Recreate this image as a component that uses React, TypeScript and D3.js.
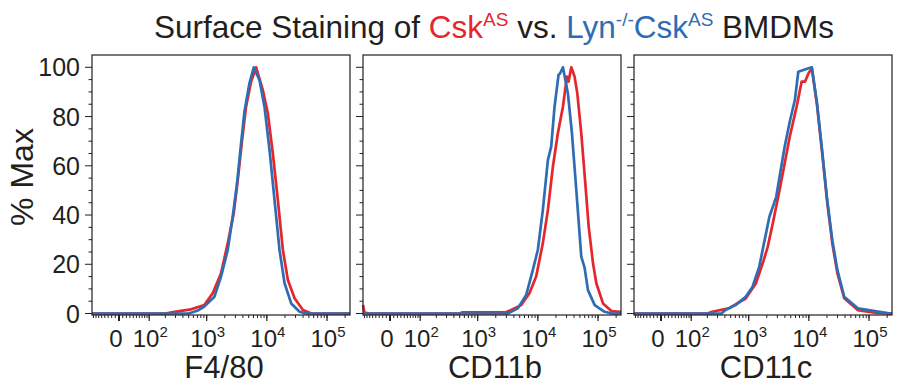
import React, { useEffect, useRef } from 'react';
import * as d3 from 'd3';

// fluorescence intensity, % of max
const f480Csk = [[-86, 0], [200, 0], [288, 0.7], [548, 1.7], [912, 3.4], [1259, 8.2], [1734, 16.3], [2239, 28.5], [2818, 40.7], [3289, 54.2], [3828, 69.1], [4519, 84], [5483, 94.2], [6637, 100], [8570, 90.8], [10399, 81.3], [12589, 65], [15241, 46.1], [18493, 25.8], [22387, 13.6], [28907, 6.2], [39811, 1.4], [54828, 0], [241000, 0]];
const f480Lyn = [[-86, 0], [480, 0], [548, 0.3], [708, 1.2], [912, 2.8], [1343, 6.8], [1734, 15], [2239, 25.8], [2710, 39.3], [3199, 52.9], [3733, 69.1], [4246, 82], [5140, 93.5], [6067, 100], [7551, 94.8], [9141, 84], [11092, 66.4], [13428, 46.1], [16255, 25.8], [19724, 12.3], [25410, 4.1], [35075, 0.7], [45000, 0], [241000, 0]];

const cd11bCsk = [[-86, 3.5], [-80, 0.4], [-60, 0], [500, 0], [560, 0.5], [3000, 0.6], [3597, 1.4], [5272, 3.4], [7261, 8.2], [9376, 15], [12106, 28.5], [14689, 42], [17783, 59.6], [21528, 73.2], [26122, 84], [30409, 96.2], [32434, 94.2], [35975, 100], [40832, 96.2], [45290, 89.4], [52723, 73.2], [61518, 52.9], [69984, 35.3], [82604, 20.4], [93756, 12.3], [121059, 4.1], [166725, 1.0], [229615, 0.7], [241000, 0.7]];
const cd11bLyn = [[-86, 0], [3162, 0], [4645, 2.1], [6397, 7.5], [8260, 17.7], [10000, 25.8], [12106, 42], [14689, 62.3], [16672, 67.8], [18967, 84], [22080, 96.9], [23500, 97.6], [26122, 100], [31623, 89.4], [36898, 73.2], [43551, 50.2], [52723, 23.1], [59979, 18.5], [68077, 9.5], [88105, 3.4], [128825, 0.7], [170000, 0], [241000, 0]];

const cd11cCsk = [[-86, 0], [200, 0], [243, 0.7], [463, 2.1], [891, 6.1], [1315, 12.2], [1706, 20.3], [2075, 27.1], [2518, 36.6], [3266, 50.2], [3972, 61], [4819, 71.8], [6266, 84], [7603, 94.2], [8670, 94.2], [9886, 97.6], [11220, 99.6], [13677, 84.7], [16596, 65.7], [20184, 45.4], [24547, 28.5], [29854, 16.3], [38726, 6.2], [65163, 1.4], [125026, 0.3], [241000, 0]];
const cd11cLyn = [[-86, 0], [350, 0], [407, 1.4], [603, 3.4], [891, 6.8], [1156, 10.8], [1496, 18.9], [1820, 29.2], [2213, 39.3], [2871, 47.4], [3483, 59.6], [3972, 67.8], [4819, 77.9], [5861, 86.7], [6683, 98.2], [8128, 98.9], [9886, 99.6], [11220, 100], [13677, 85.4], [16596, 66.4], [20184, 46.1], [24547, 29.8], [29854, 17.6], [38726, 6.8], [65163, 2.1], [125026, 1.0], [229615, 0], [241000, 0]];

const markers = ['F4/80', 'CD11b', 'CD11c'];
const cskSeries = [f480Csk, cd11bCsk, cd11cCsk];
const lynSeries = [f480Lyn, cd11bLyn, cd11cLyn];

const yTicks = [0, 20, 40, 60, 80, 100];
const xTickValues = [0, 100, 1000, 10000, 100000];
const xTickBase = ['0', '10', '10', '10', '10'];
const xTickSup = ['', '2', '3', '4', '5'];

const RED = '#e5262c';
const BLUE = '#2e6db4';
const INK = '#231f20';
const FONT = 'Liberation Sans, Arial, Helvetica, sans-serif';

const W = 899;
const H = 386;

// biexponential-like display transform
const biex = (v: number) => Math.asinh(v / 70);

const App = () => {
  const svgRef = useRef<SVGSVGElement>(null);

  useEffect(() => {
    const svg = d3.select(svgRef.current);
    svg.selectAll('*').remove();

    const panelLefts = [92, 363, 634];
    const pw = 258;
    const top = 55;
    const ph = 260;

    const x = d3.scaleLinear().domain([biex(-86), biex(241000)]).range([0, pw]);
    const y = d3.scaleLinear().domain([-0.6, 105]).range([ph, 0]);

    // minor ticks for biex axis
    const minor: number[] = [];
    for (let m = 1; m <= 8; m++) minor.push(-10 * m);
    [10, 100, 1000, 10000, 100000].forEach((dec) => {
      for (let m = 1; m <= 9; m++) {
        const v = dec * m;
        if (v <= 241000) minor.push(v);
      }
    });

    const line = d3
      .line<number[]>()
      .x((d) => x(biex(d[0])))
      .y((d) => y(d[1]));

    markers.forEach((name, i) => {
      const g = svg.append('g').attr('transform', `translate(${panelLefts[i]},${top})`);

      // y ticks
      const yMinor = d3.range(0, 101, 5);
      g.selectAll('line.ym')
        .data(yMinor)
        .join('line')
        .attr('x1', (d) => (d % 20 === 0 ? -7 : -3.5))
        .attr('x2', 0)
        .attr('y1', (d) => y(d))
        .attr('y2', (d) => y(d))
        .attr('stroke', INK)
        .attr('stroke-width', 1);

      if (i === 0) {
        g.selectAll('text.yl')
          .data(yTicks)
          .join('text')
          .attr('x', -12)
          .attr('y', (d) => y(d))
          .attr('dy', '0.36em')
          .attr('text-anchor', 'end')
          .attr('font-family', FONT)
          .attr('font-size', 25)
          .attr('fill', INK)
          .text((d) => d);
      }

      // x ticks
      g.selectAll('line.xm')
        .data(minor)
        .join('line')
        .attr('x1', (d) => x(biex(d)))
        .attr('x2', (d) => x(biex(d)))
        .attr('y1', ph)
        .attr('y2', ph + 3)
        .attr('stroke', INK)
        .attr('stroke-width', 1);

      g.selectAll('line.xM')
        .data(xTickValues)
        .join('line')
        .attr('x1', (d) => x(biex(d)))
        .attr('x2', (d) => x(biex(d)))
        .attr('y1', ph)
        .attr('y2', ph + 6)
        .attr('stroke', INK)
        .attr('stroke-width', (d) => (d === 0 ? 2 : 1.2));

      const lbl = g
        .selectAll('text.xl')
        .data(xTickValues)
        .join('text')
        .attr('x', (d, j) => x(biex(d)) + (j === 0 ? -3 : 1))
        .attr('y', ph + 32)
        .attr('text-anchor', 'middle')
        .attr('font-family', FONT)
        .attr('font-size', 24)
        .attr('fill', INK);
      lbl.append('tspan').text((d, j) => xTickBase[j]);
      lbl
        .append('tspan')
        .attr('dy', -10)
        .attr('font-size', 15)
        .text((d, j) => xTickSup[j]);

      // histograms
      g.append('path')
        .datum(cskSeries[i])
        .attr('d', line)
        .attr('fill', 'none')
        .attr('stroke', RED)
        .attr('stroke-width', 2.7)
        .attr('stroke-linejoin', 'round');
      g.append('path')
        .datum(lynSeries[i])
        .attr('d', line)
        .attr('fill', 'none')
        .attr('stroke', BLUE)
        .attr('stroke-width', 2.7)
        .attr('stroke-linejoin', 'round');

      // frame
      g.append('rect')
        .attr('width', pw)
        .attr('height', ph)
        .attr('fill', 'none')
        .attr('stroke', INK)
        .attr('stroke-width', 1.2);

      g.append('text')
        .attr('x', pw / 2 + 3)
        .attr('y', ph + 63)
        .attr('text-anchor', 'middle')
        .attr('font-family', FONT)
        .attr('font-size', 31)
        .attr('fill', INK)
        .text(name);
    });

    // y label
    svg
      .append('text')
      .attr('transform', 'translate(33,177) rotate(-90)')
      .attr('text-anchor', 'middle')
      .attr('font-family', FONT)
      .attr('font-size', 32)
      .attr('fill', INK)
      .text('% Max');

    // title
    const title = svg
      .append('text')
      .attr('x', 494)
      .attr('y', 38)
      .attr('text-anchor', 'middle')
      .attr('font-family', FONT)
      .attr('font-size', 31.5)
      .attr('fill', INK);
    const parts = [
      { t: 'Surface Staining of ', c: INK, sup: false },
      { t: 'Csk', c: RED, sup: false },
      { t: 'AS', c: RED, sup: true },
      { t: ' vs. ', c: INK, sup: false },
      { t: 'Lyn', c: BLUE, sup: false },
      { t: '-/-', c: BLUE, sup: true },
      { t: 'Csk', c: BLUE, sup: false },
      { t: 'AS', c: BLUE, sup: true },
      { t: ' BMDMs', c: INK, sup: false },
    ];
    let raised = false;
    parts.forEach((p) => {
      const ts = title.append('tspan').attr('fill', p.c).text(p.t);
      if (p.sup && !raised) {
        ts.attr('dy', -12).attr('font-size', 19);
        raised = true;
      } else if (p.sup) {
        ts.attr('font-size', 19);
      } else if (raised) {
        ts.attr('dy', 12);
        raised = false;
      }
    });
  }, []);

  return (
    <svg
      ref={svgRef}
      width={W}
      height={H}
      style={{ position: 'absolute', left: 0, top: 0, background: '#fff' }}
    />
  );
};

export default App;
